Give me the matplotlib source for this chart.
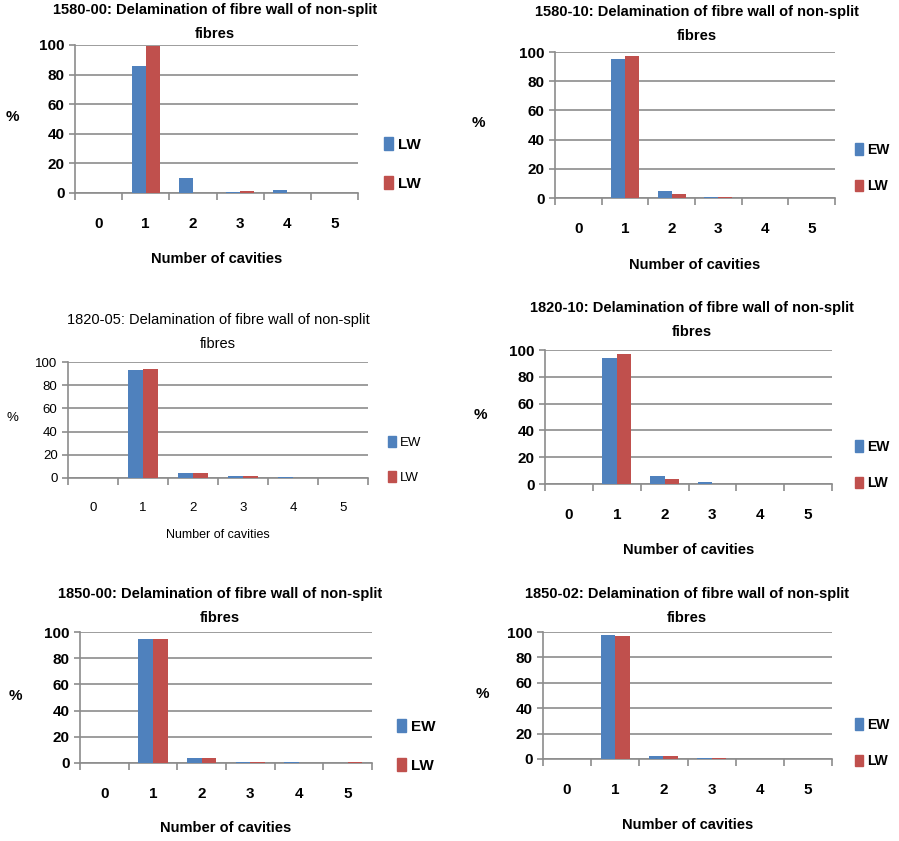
import matplotlib
matplotlib.use("Agg")
import matplotlib.pyplot as plt
from matplotlib.patches import Patch

plt.rcParams['font.family'] = ['Liberation Sans', 'DejaVu Sans']

W, H = 899, 841

cavities = ['0', '1', '2', '3', '4', '5']
titles = [
    "1580-00: Delamination of fibre wall of non-split\nfibres",
    "1580-10: Delamination of fibre wall of non-split\nfibres",
    "1820-05: Delamination of fibre wall of non-split\nfibres",
    "1820-10: Delamination of fibre wall of non-split\nfibres",
    "1850-00: Delamination of fibre wall of non-split\nfibres",
    "1850-02: Delamination of fibre wall of non-split\nfibres",
]
legend_labels = [
    ("LW", "LW"),
    ("EW", "LW"),
    ("EW", "LW"),
    ("EW", "LW"),
    ("EW", "LW"),
    ("EW", "LW"),
]
ew_1580_00 = [0, 86, 10, 0.8, 2, 0]
lw_1580_00 = [0, 99, 0, 1.5, 0, 0]
ew_1580_10 = [0, 95, 5, 1, 0, 0]
lw_1580_10 = [0, 97, 3, 1, 0, 0]
ew_1820_05 = [0, 93, 4, 1.5, 0.7, 0]
lw_1820_05 = [0, 94, 4, 1.5, 0, 0]
ew_1820_10 = [0, 94, 6, 1.5, 0, 0]
lw_1820_10 = [0, 97, 4, 0, 0, 0]
ew_1850_00 = [0, 95, 4, 1, 1, 0]
lw_1850_00 = [0, 95, 4, 1, 0, 1]
ew_1850_02 = [0, 98, 2, 1, 0, 0]
lw_1850_02 = [0, 97, 2, 1, 0, 0]

series = [
    (ew_1580_00, lw_1580_00),
    (ew_1580_10, lw_1580_10),
    (ew_1820_05, lw_1820_05),
    (ew_1820_10, lw_1820_10),
    (ew_1850_00, lw_1850_00),
    (ew_1850_02, lw_1850_02),
]

# pixel layout: axes box (left, right, top, bottom), title centre x / top y,
# legend x / centre y, '%' x, x-label y, bold, title size, tick size, legend size
layouts = [
    dict(box=(75, 358, 45, 193), tx=215, ty=3, lx=384, ly=164, px=12, xy=259, bold=True, fs=10.5, tfs=11, lfs=11),
    dict(box=(555, 835, 52, 198), tx=697, ty=5, lx=855, ly=168, px=478, xy=265, bold=True, fs=10.5, tfs=11, lfs=10),
    dict(box=(68, 368, 362, 478), tx=218, ty=313, lx=388, ly=460, px=12, xy=535, bold=False, fs=10.5, tfs=9.5, lfs=9.5),
    dict(box=(545, 832, 350, 484), tx=692, ty=301, lx=855, ly=465, px=480, xy=550, bold=True, fs=10.5, tfs=11, lfs=10),
    dict(box=(80, 372, 632, 763), tx=220, ty=587, lx=397, ly=746, px=15, xy=828, bold=True, fs=10.5, tfs=11, lfs=11),
    dict(box=(543, 832, 632, 759), tx=687, ty=587, lx=855, ly=743, px=482, xy=825, bold=True, fs=10.5, tfs=11, lfs=10),
]

blue = '#4F81BD'
red = '#C0504D'
grid = '#8C8C8C'

fig = plt.figure(figsize=(W / 100, H / 100), dpi=100)

for title, (ew, lw), labs, lay in zip(titles, series, legend_labels, layouts):
    l, r, t, b = lay['box']
    ax = fig.add_axes([l / W, 1 - b / H, (r - l) / W, (b - t) / H])
    weight = 'bold' if lay['bold'] else 'normal'
    x = list(range(len(cavities)))
    bw = 0.3
    ax.bar([i - bw / 2 for i in x], ew, width=bw, color=blue, linewidth=0, zorder=3)
    ax.bar([i + bw / 2 for i in x], lw, width=bw, color=red, linewidth=0, zorder=3)
    ax.set_xlim(-0.5, 5.5)
    ax.set_ylim(0, 100)
    ax.set_yticks(range(0, 101, 20))
    ax.yaxis.grid(True, color=grid, linewidth=1.2, zorder=0)
    ax.set_xticks(x)
    ax.set_xticklabels(cavities, fontsize=lay['tfs'], fontweight=weight)
    ax.set_xticks([i + 0.5 for i in range(-1, 6)], minor=True)
    ax.tick_params(axis='x', which='major', length=0, pad=17)
    ax.tick_params(axis='x', which='minor', length=5, color=grid, width=1.2, direction='out')
    ax.tick_params(axis='y', length=4, color=grid, width=1.2, labelsize=lay['tfs'])
    for lbl in ax.get_yticklabels():
        lbl.set_fontweight(weight)
    for s in ['top', 'right']:
        ax.spines[s].set_visible(False)
    for s in ['left', 'bottom']:
        ax.spines[s].set_color(grid)
        ax.spines[s].set_linewidth(1.2)
    fig.text(lay['tx'] / W, 1 - lay['ty'] / H, title, ha='center', va='top',
             fontsize=lay['fs'], fontweight=weight, linespacing=1.9)
    fig.text(lay['px'] / W, 1 - ((t + b) / 2 - 2) / H, '%', ha='center', va='center',
             fontsize=lay['tfs'], fontweight=weight)
    fig.text((l + r) / 2 / W, 1 - lay['xy'] / H, 'Number of cavities', ha='center', va='center',
             fontsize=lay['fs'] if lay['bold'] else 9, fontweight=weight)
    handles = [Patch(color=blue, label=labs[0]), Patch(color=red, label=labs[1])]
    fig.legend(handles=handles, loc='center left',
               bbox_to_anchor=(lay['lx'] / W, 1 - lay['ly'] / H),
               frameon=False, handlelength=0.6, handleheight=0.9, handletextpad=0.3,
               labelspacing=1.6, borderpad=0, borderaxespad=0,
               prop=dict(size=lay['lfs'], weight=weight))

fig.savefig('out.png', dpi=100)
